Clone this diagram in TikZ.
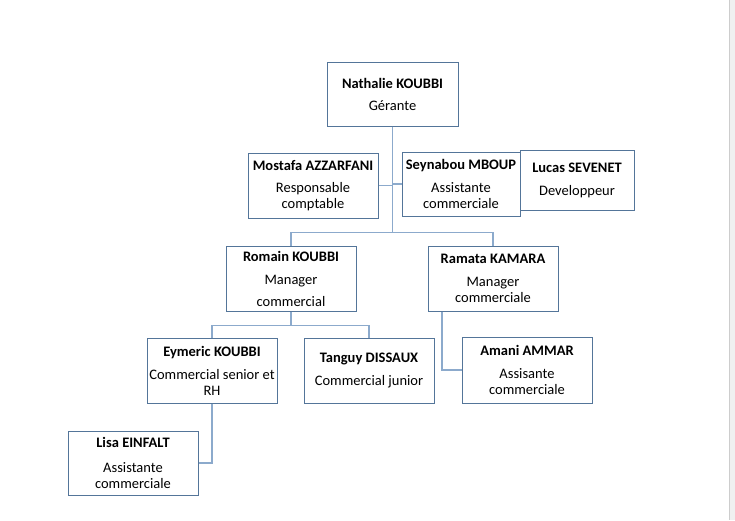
\documentclass[tikz,border=0pt]{standalone}
\usepackage{fontspec}
\setmainfont{Carlito}
\definecolor{boxcol}{RGB}{84,117,153}
\definecolor{conncol}{RGB}{140,170,204}
\definecolor{edgegray}{RGB}{205,205,205}
\definecolor{bandgray}{RGB}{240,240,240}
\begin{document}
\begin{tikzpicture}[x=1pt,y=-1pt,
  orgbox/.style={draw=boxcol, line width=1pt, rectangle, inner sep=0pt, align=center,
    font=\fontsize{14.5}{16}\selectfont},
  conn/.style={draw=conncol, line width=1.4pt}]
\useasboundingbox (0,0) rectangle (735,520);
\fill[white] (0,0) rectangle (735,520);
\fill[bandgray] (730,0) rectangle (735,520);
\draw[edgegray, line width=1pt] (729.5,0) -- (729.5,520);

% connectors
\coordinate (busN) at (392.5,232.5);
\coordinate (busR) at (291,325.5);

\node[orgbox, minimum width=131pt, minimum height=64pt] (nat) at (392.5,94) {\textbf{Nathalie KOUBBI}\\[6pt]Gérante};
\node[orgbox, minimum width=130pt, minimum height=65pt] (mos) at (313,185.5) {\textbf{Mostafa AZZARFANI}\\[6pt]Responsable\\comptable};
\node[orgbox, minimum width=118pt, minimum height=64pt] (sey) at (461,184) {\textbf{Seynabou MBOUP}\\[7pt]Assistante\\commerciale};
\node[orgbox, minimum width=114pt, minimum height=60pt] (luc) at (577,180) {\textbf{Lucas SEVENET}\\[7pt]Developpeur};
\node[orgbox, minimum width=130pt, minimum height=65pt] (rom) at (291,278.5) {\textbf{Romain KOUBBI}\\[7pt]Manager\\[6pt]commercial};
\node[orgbox, minimum width=130pt, minimum height=65pt] (ram) at (493,278.5) {\textbf{Ramata KAMARA}\\[7pt]Manager\\commerciale};
\node[orgbox, minimum width=130pt, minimum height=65pt] (eym) at (212,370.5) {\textbf{Eymeric KOUBBI}\\[7pt]Commercial senior et\\RH};
\node[orgbox, minimum width=130pt, minimum height=65pt] (tan) at (369,370.5) {\textbf{Tanguy DISSAUX}\\[7pt]Commercial junior};
\node[orgbox, minimum width=130pt, minimum height=66pt] (ama) at (527,370) {\textbf{Amani AMMAR}\\[7pt]Assisante\\commerciale};
\node[orgbox, minimum width=130pt, minimum height=64pt] (lis) at (133,463) {\textbf{Lisa EINFALT}\\[9pt]Assistante\\commerciale};

\draw[conn] (nat.south) -- (busN);
\draw[conn] (rom.north) |- (busN) -| (ram.north);
\draw[conn] (mos.east) -- (nat.south |- mos.east);
\draw[conn] (sey.west) -- (nat.south |- sey.west);
\draw[conn] (rom.south) -- (busR);
\draw[conn] (eym.north) |- (busR) -| (tan.north);
\draw[conn] ([xshift=-51pt]ram.south) |- (ama.west);
\draw[conn] (eym.south) |- (lis.east);
\end{tikzpicture}
\end{document}
